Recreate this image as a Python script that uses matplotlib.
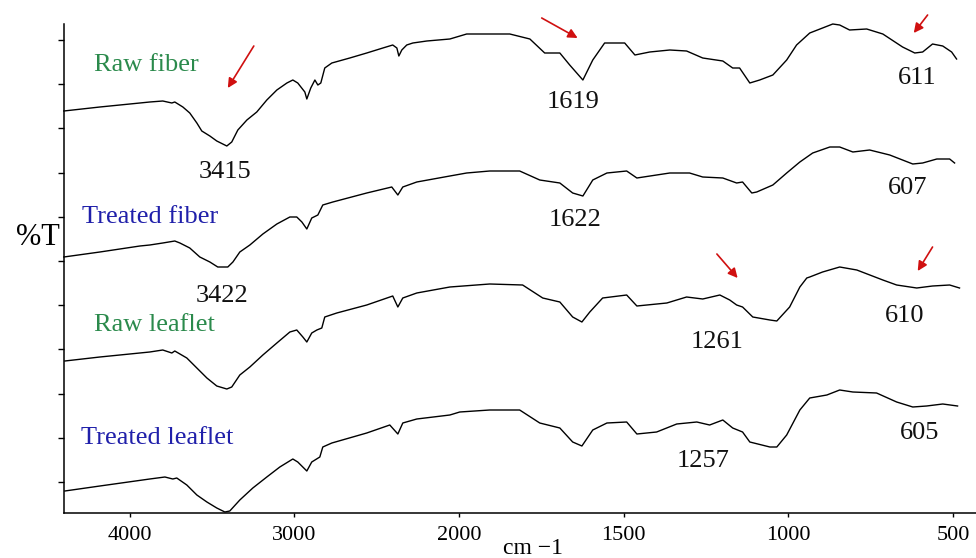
"""FTIR spectra of raw / treated fiber and leaflet, stacked with offsets."""

import matplotlib
matplotlib.use("Agg")
import matplotlib.pyplot as plt
import numpy as np

plt.rcParams["font.family"] = ["Liberation Serif", "DejaVu Serif"]

# wavenumber (cm-1) and offset transmittance (arbitrary units)
raw_fiber_wn = [4401, 4182, 3939, 3879, 3800, 3745, 3727, 3678, 3636, 3593, 3563, 3514,
                3472, 3411, 3381, 3344, 3289, 3229, 3168, 3107, 3046, 3010, 2980, 2937,
                2925, 2901, 2876, 2858, 2840, 2816, 2773, 2664, 2561, 2463, 2403, 2378,
                2366, 2348, 2318, 2281, 2196, 2056,
                1977, 1907, 1846, 1785, 1740,
                1694, 1664, 1624, 1594, 1558, 1521, 1497, 1466, 1421, 1360, 1309, 1260,
                1199, 1169, 1148, 1117, 1087, 1047, 1005, 975, 935, 896, 865, 844, 814,
                762, 713, 653, 616, 592, 562, 531, 504, 489]
raw_fiber_t = [402, 406, 410, 411, 412, 410, 411, 406, 400, 390, 382, 377,
               372, 367, 371, 383, 393, 401, 413, 423, 430, 433, 430, 421,
               414, 425, 433, 428, 430, 445, 450, 455, 460, 465, 468, 465,
               457, 463, 468, 470, 472, 474,
               479, 479, 479, 474, 460,
               460, 448, 433, 453, 470, 470, 470, 458, 461, 463, 462, 455,
               452, 445, 445, 430, 433, 438, 453, 468, 480, 485, 489, 488, 483,
               484, 479, 466, 460, 461, 469, 467, 461, 454]

treated_fiber_wn = [4401, 4182, 3939, 3879, 3800, 3727, 3696, 3636, 3575, 3514, 3466, 3405,
                    3374, 3332, 3271, 3192, 3107, 3028, 2986, 2955, 2925, 2895, 2858, 2828,
                    2767, 2561, 2409, 2372, 2342, 2257, 2056,
                    1977, 1907, 1816, 1755, 1694, 1655, 1624, 1594, 1551, 1491, 1460,
                    1360, 1300, 1260, 1199, 1157, 1139, 1111, 1096, 1047, 1005, 965, 926,
                    874, 844, 804, 753, 692, 622, 592, 549, 510, 495]
treated_fiber_t = [256, 261, 267, 268, 270, 272, 270, 265, 256, 251, 246, 246,
                   251, 261, 268, 279, 289, 296, 296, 291, 284, 295, 298, 308,
                   311, 320, 326, 318, 326, 331, 337,
                   340, 342, 342, 333, 330, 320, 317, 333, 340, 342, 335,
                   340, 340, 336, 335, 330, 331, 320, 321, 328, 340, 351, 360,
                   366, 366, 361, 363, 358, 349, 350, 354, 354, 350]

raw_leaflet_wn = [4395, 4182, 3879, 3800, 3745, 3727, 3654, 3593, 3532, 3472, 3411, 3381,
                  3332, 3271, 3192, 3107, 3028, 2986, 2949, 2925, 2895, 2864, 2834, 2816,
                  2743, 2561, 2403, 2372, 2342, 2257, 2056,
                  1907, 1807, 1746, 1694, 1655, 1627, 1603, 1564, 1491, 1460,
                  1369, 1309, 1260, 1208, 1178, 1157, 1139, 1108, 1056, 1035, 996, 965,
                  944, 935, 896, 844, 792, 713, 671, 610, 562, 510, 480]
raw_leaflet_t = [152, 156, 161, 163, 160, 162, 155, 145, 135, 127, 124, 126,
                 138, 146, 158, 170, 181, 183, 176, 171, 180, 183, 185, 196,
                 200, 208, 217, 206, 215, 220, 226,
                 229, 228, 215, 211, 196, 191, 201, 215, 218, 207,
                 210, 216, 214, 218, 213, 208, 206, 196, 193, 192, 206, 226,
                 235, 236, 241, 246, 243, 233, 228, 225, 227, 228, 225]

treated_leaflet_wn = [4395, 4182, 3879, 3787, 3739, 3715, 3654, 3593, 3532, 3472, 3423, 3393,
                      3332, 3253, 3168, 3089, 3010, 2980, 2925, 2895, 2846, 2828, 2773, 2561,
                      2421, 2372, 2342, 2257, 2056,
                      1998, 1907, 1816, 1755, 1694, 1655, 1627, 1594, 1551, 1491, 1460,
                      1400, 1339, 1278, 1239, 1199, 1169, 1139, 1117, 1056, 1035, 1005, 965,
                      935, 883, 844, 804, 732, 671, 622, 580, 531, 486]
treated_leaflet_t = [22, 27, 34, 36, 34, 35, 28, 18, 11, 5, 1, 2,
                     13, 25, 36, 46, 54, 51, 42, 51, 56, 66, 70, 80,
                     88, 79, 90, 94, 98,
                     101, 103, 103, 90, 85, 71, 67, 83, 90, 91, 79,
                     81, 89, 91, 88, 93, 85, 81, 71, 66, 66, 78, 103,
                     115, 118, 123, 121, 120, 111, 106, 107, 109, 107]

names = ["Raw fiber", "Treated fiber", "Raw leaflet", "Treated leaflet"]
name_colors = ["#2b8a4c", "#2020aa", "#2b8a4c", "#2020aa"]
peak_labels = ["3415", "1619", "611", "3422", "1622", "607",
               "1261", "610", "1257", "605"]
xtick_vals = [4000, 3000, 2000, 1500, 1000, 500]


def fwd(wn):
    # FTIR axis: scale halves above 2000 cm-1
    wn = np.asarray(wn, dtype=float)
    return np.where(wn > 2000, 2000 + (wn - 2000) / 2, wn)


def inv(u):
    u = np.asarray(u, dtype=float)
    return np.where(u > 2000, 2000 + 2 * (u - 2000), u)


fig = plt.figure(figsize=(9.76, 5.58), dpi=100)
ax = fig.add_axes([64 / 976, 45 / 558, 912 / 976, 489 / 558])
ax.set_xscale("function", functions=(fwd, inv))

series = [(raw_fiber_wn, raw_fiber_t), (treated_fiber_wn, treated_fiber_t),
          (raw_leaflet_wn, raw_leaflet_t), (treated_leaflet_wn, treated_leaflet_t)]
for wn, t in series:
    ax.plot(wn, t, color="black", lw=1.0, clip_on=False)

ax.set_xlim(4400, 430)
ax.set_ylim(0, 489)
ax.set_xticks(xtick_vals)
ax.set_xticklabels([str(v) for v in xtick_vals], fontsize=16)
ax.set_yticks(np.arange(31, 480, 44.2))
ax.set_yticklabels([])
ax.tick_params(axis="x", direction="out", length=3, width=1, pad=6)
ax.tick_params(axis="y", direction="out", length=4, width=1)
ax.xaxis.set_minor_locator(matplotlib.ticker.NullLocator())
for s in ["top", "right"]:
    ax.spines[s].set_visible(False)
for s in ["left", "bottom"]:
    ax.spines[s].set_linewidth(1.1)

# sample names
name_pos = [(3897, 448), (3879, 296), (3848, 188), (3836, 75)]
for name, c, (x, y) in zip(names, name_colors, name_pos):
    ax.text(x, y, name, color=c, fontsize=19, ha="center", va="center")

# peak positions
peak_pos = [(3423, 341), (1655, 411), (610, 435), (3441, 217), (1649, 293),
            (637, 325), (1217, 171), (647, 197), (1260, 52), (601, 80)]
for lab, (x, y) in zip(peak_labels, peak_pos):
    ax.text(x, y, lab, fontsize=19, ha="center", va="center", color="#111111")

# red arrows
arrows = [((3247, 467), (3405, 425)), ((1749, 495), (1640, 475)),
          ((577, 498), (619, 480)), ((1217, 259), (1154, 235)),
          ((562, 266), (607, 242))]
for tail, head in arrows:
    ax.annotate("", xy=head, xytext=tail,
                arrowprops=dict(arrowstyle="-|>", color="#d01010", lw=1.2,
                                mutation_scale=14, shrinkA=0, shrinkB=0))

fig.text(38 / 976, 1 - 237 / 558, "%T", fontsize=22, ha="center", va="center")
fig.text(533 / 976, 1 - 549 / 558, "cm \u22121", fontsize=17, ha="center", va="center")

fig.savefig("out.png", dpi=100)
